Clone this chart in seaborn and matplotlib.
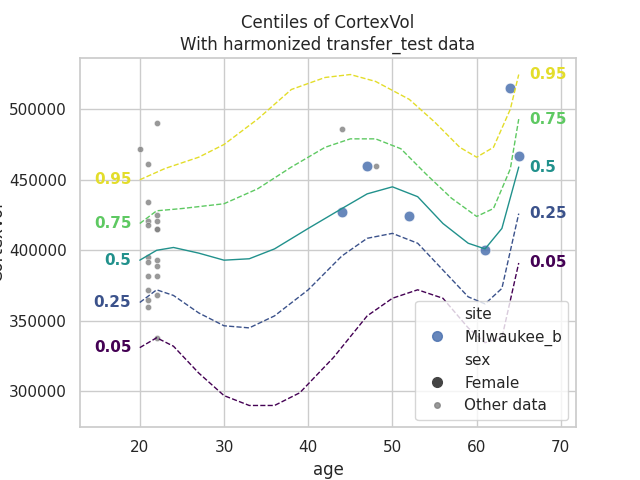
import matplotlib
matplotlib.use('Agg')
import matplotlib.pyplot as plt
import matplotlib.lines as mlines
import seaborn as sns
import pandas as pd

sns.set_theme(style='whitegrid')

# centile curves
c05_x = [20, 22, 24, 27, 30, 33, 36, 39, 43, 47, 50, 53, 56, 59, 61, 63, 65]
c05_y = [331000, 338000, 332000, 313000, 297000, 290000, 290000, 299000, 324000, 353500, 366000, 372000, 366000, 345000, 334500, 338000, 391000]
c25_x = [20, 22, 24, 27, 30, 33, 36, 40, 44, 47, 50, 53, 56, 59, 61, 63, 65]
c25_y = [363000, 372000, 368000, 355600, 346500, 345000, 353500, 372000, 396000, 408500, 412000, 405000, 386000, 367000, 362000, 373000, 426000]
c50_x = [20, 22, 24, 27, 30, 33, 36, 40, 44, 47, 50, 53, 56, 59, 61, 63, 65]
c50_y = [393000, 400000, 402000, 398000, 393000, 394000, 401000, 415500, 429600, 440000, 445000, 438000, 419000, 405000, 401000, 415500, 459000]
c75_x = [20, 22, 25, 30, 34, 38, 42, 45, 48, 51, 54, 57, 60, 62, 64, 65]
c75_y = [419000, 428000, 429600, 433000, 443600, 459000, 473000, 479000, 479000, 472000, 454000, 437000, 424000, 429600, 457700, 493000]
c95_x = [20, 23, 27, 30, 34, 38, 42, 45, 48, 52, 55, 58, 60, 62, 64, 65]
c95_y = [450000, 458000, 466000, 475000, 493000, 514000, 522500, 524600, 519700, 507000, 491000, 473000, 466000, 473000, 500000, 524600]

site_age = [44, 47, 52, 61, 64, 65]
site_vol = [427000, 460000, 424000, 400500, 515000, 467000]

other_age = [20] + [21] * 10 + [22] * 10 + [44, 48]
other_vol = [472000,
             461000, 434000, 421000, 418000, 395000, 392000, 382000, 372000, 365000, 360000,
             490000, 425000, 421000, 415000, 415000, 393000, 389000, 382000, 368000, 338000,
             486000, 460000]

centiles = [('0.05', c05_x, c05_y, '#440154'), ('0.25', c25_x, c25_y, '#3b528b'),
            ('0.5', c50_x, c50_y, '#21918c'), ('0.75', c75_x, c75_y, '#5ec962'),
            ('0.95', c95_x, c95_y, '#e3dd2a')]

fig, ax = plt.subplots(figsize=(6.4, 4.8), dpi=100)
fig.subplots_adjust(left=0.125, right=0.9, top=0.88, bottom=0.11)

sns.scatterplot(x=other_age, y=other_vol, color='gray', s=20, alpha=0.8, ax=ax, legend=False)
for lab, xs, ys, col in centiles:
    sns.lineplot(x=xs, y=ys, color=col, lw=1, linestyle='-' if lab == '0.5' else '--', ax=ax)
    ax.text(xs[0] - 1.0, ys[0], lab, color=col, fontweight='bold', ha='right', va='center', fontsize=11)
    ax.text(xs[-1] + 1.2, ys[-1], lab, color=col, fontweight='bold', ha='left', va='center', fontsize=11)
sns.scatterplot(x=site_age, y=site_vol, color='#4c72b0', s=60, alpha=0.85, ax=ax, legend=False)

ax.set_xlim(12.9, 71.8)
ax.set_ylim(274600, 536600)
ax.set_xlabel('age')
ax.set_ylabel('CortexVol', labelpad=2)
ax.set_title('Centiles of CortexVol\nWith harmonized transfer_test data')

blank = mlines.Line2D([], [], linestyle='none')
handles = [blank,
           mlines.Line2D([], [], linestyle='none', marker='o', color='#4c72b0', alpha=0.85, markersize=7),
           blank,
           mlines.Line2D([], [], linestyle='none', marker='o', color='#444444', markersize=7),
           mlines.Line2D([], [], linestyle='none', marker='o', color='gray', alpha=0.8, markersize=4)]
labels = ['site', 'Milwaukee_b', 'sex', 'Female', 'Other data']
ax.legend(handles, labels, loc='lower right')

plt.savefig('out.png')
